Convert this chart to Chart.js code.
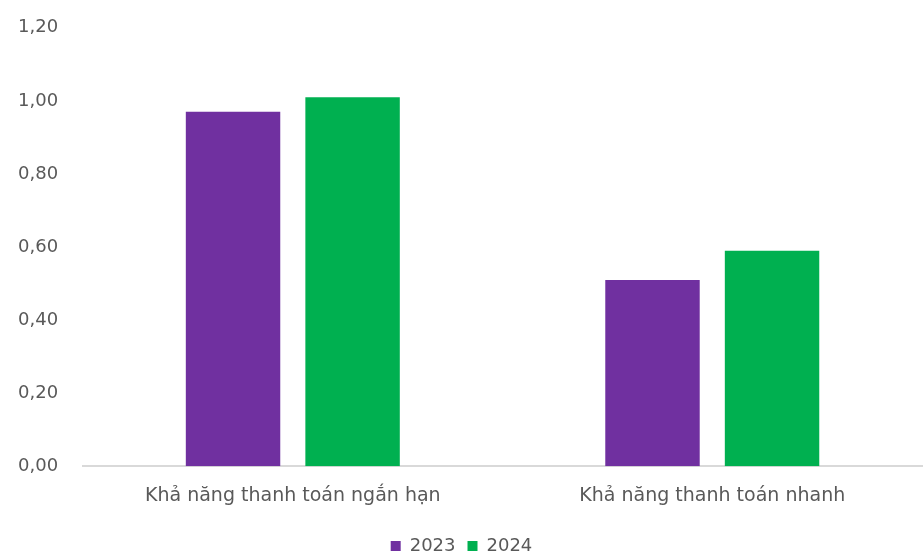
<!DOCTYPE html>
<html>
<head>
<meta charset="utf-8">
<script src="https://cdn.jsdelivr.net/npm/chart.js@4/dist/chart.umd.min.js"></script>
<style>
  html, body { margin: 0; padding: 0; background: #fff; overflow: hidden; }
  #wrap { width: 924px; height: 565px; }
</style>
</head>
<body>
<div id="wrap"><canvas id="chart"></canvas></div>
<script>
const categories = ['Khả năng thanh toán ngắn hạn', 'Khả năng thanh toán nhanh'];
const seriesLabels = ['2023', '2024'];
const values2023 = [0.97, 0.51];
const values2024 = [1.01, 0.59];
const colors = ['#7030A0', '#00B050'];

const fontFamily = '"DejaVu Sans", "Noto Sans", sans-serif';
const textColor = '#595959';

const ctx = document.getElementById('chart').getContext('2d');
new Chart(ctx, {
    type: 'bar',
    data: {
        labels: categories,
        datasets: [
            { label: seriesLabels[0], data: values2023, backgroundColor: colors[0] },
            { label: seriesLabels[1], data: values2024, backgroundColor: colors[1] }
        ]
    },
    options: {
        responsive: true,
        maintainAspectRatio: false,
        animation: false,
        layout: { padding: { left: 1, right: 2, top: 17, bottom: 0 } },
        datasets: { bar: { categoryPercentage: 0.57, barPercentage: 0.79 } },
        plugins: {
            legend: {
                position: 'bottom',
                labels: {
                    usePointStyle: true,
                    pointStyle: 'rect',
                    boxWidth: 10,
                    boxHeight: 10,
                    padding: 12,
                    color: textColor,
                    font: { family: fontFamily, size: 18 }
                }
            },
            tooltip: { enabled: false }
        },
        scales: {
            x: {
                grid: { display: false },
                border: { display: true, color: '#d9d9d9', width: 2 },
                ticks: { color: textColor, padding: 10, font: { family: fontFamily, size: 19 } },
                afterFit: axis => { axis.height += 8; }
            },
            y: {
                min: 0,
                max: 1.2,
                grid: { display: false },
                border: { display: false },
                ticks: {
                    stepSize: 0.2,
                    padding: 17,
                    color: textColor,
                    font: { family: fontFamily, size: 18 },
                    callback: v => v.toFixed(2).replace('.', ',')
                }
            }
        }
    }
});
</script>
</body>
</html>
